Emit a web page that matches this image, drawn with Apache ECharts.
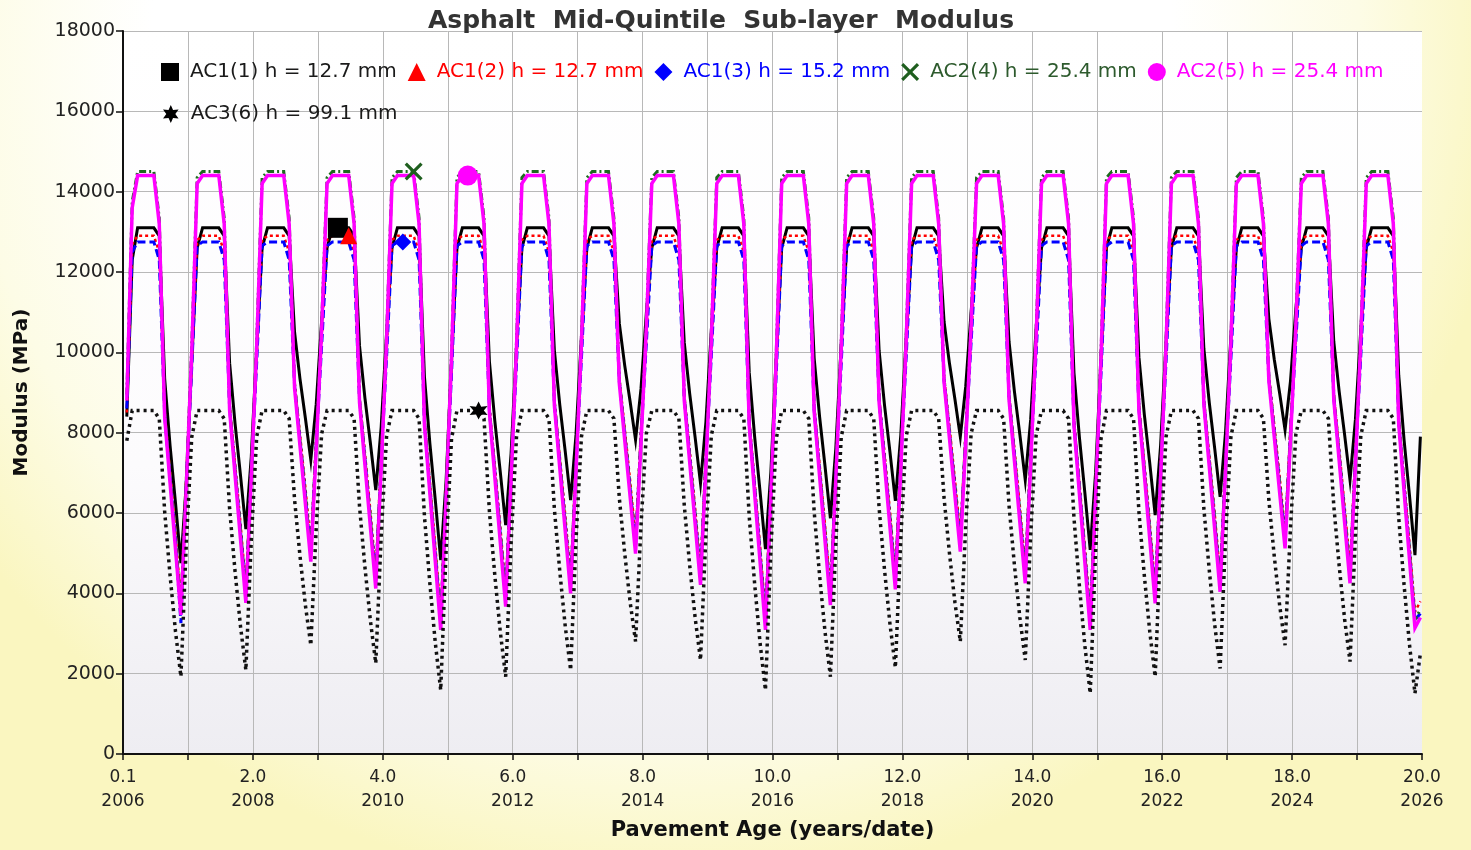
<!DOCTYPE html>
<html>
<head>
<meta charset="utf-8">
<title>Asphalt Mid-Quintile Sub-layer Modulus</title>
<script src="https://cdn.jsdelivr.net/npm/echarts@6/dist/echarts.min.js"></script>
<style>
  html, body { margin: 0; padding: 0; background: #ffffff; }
  #chart { width: 1471px; height: 850px; }
</style>
</head>
<body>
<div id="chart"></div>
<script>
// Monthly sub-layer modulus (MPa), one row of 12 monthly values per year of pavement age.
const seriesNames = [
  'AC1(1) h = 12.7 mm',
  'AC1(2) h = 12.7 mm',
  'AC1(3) h = 15.2 mm',
  'AC2(4) h = 25.4 mm',
  'AC2(5) h = 25.4 mm',
  'AC3(6) h = 99.1 mm'
];

// x-axis tick labels: age (years) over calendar year
const ageLabels = ['0.1', '2.0', '4.0', '6.0', '8.0', '10.0', '12.0', '14.0', '16.0', '18.0', '20.0'];
const yearLabels = ['2006', '2008', '2010', '2012', '2014', '2016', '2018', '2020', '2022', '2024', '2026'];

const ac1_1 = [
  [8400, 12300, 13100, 13100, 13100, 13100, 12900, 9340, 7670, 6250, 4750, 6750],
  [9760, 12600, 13100, 13100, 13100, 13100, 12900, 9730, 8230, 6950, 5600, 7400],
  [10100, 12600, 13100, 13100, 13100, 13100, 12900, 10500, 9340, 8360, 7320, 8710],
  [10790, 12600, 13100, 13100, 13100, 13100, 12900, 10160, 8860, 7750, 6570, 8140],
  [10490, 12600, 13100, 13100, 13100, 13100, 12900, 9380, 7730, 6320, 4830, 6820],
  [9790, 12600, 13100, 13100, 13100, 13100, 12900, 9770, 8290, 7030, 5700, 7480],
  [10140, 12600, 13100, 13100, 13100, 13100, 12900, 10050, 8690, 7540, 6320, 7950],
  [10390, 12600, 13100, 13100, 13100, 13100, 12900, 10720, 9670, 8770, 7820, 9090],
  [10990, 12600, 13100, 13100, 13100, 13100, 12900, 10240, 8970, 7890, 6740, 8270],
  [10560, 12600, 13100, 13100, 13100, 13100, 12900, 9500, 7900, 6540, 5100, 7020],
  [9900, 12600, 13100, 13100, 13100, 13100, 12900, 9850, 8400, 7170, 5870, 7610],
  [10210, 12600, 13100, 13100, 13100, 13100, 12900, 10040, 8680, 7520, 6300, 7930],
  [10380, 12600, 13100, 13100, 13100, 13100, 12900, 10760, 9720, 8840, 7900, 9150],
  [11020, 12600, 13100, 13100, 13100, 13100, 12900, 10270, 9020, 7950, 6820, 8330],
  [10590, 12600, 13100, 13100, 13100, 13100, 12900, 9490, 7890, 6520, 5080, 7010],
  [9890, 12600, 13100, 13100, 13100, 13100, 12900, 9880, 8450, 7240, 5950, 7670],
  [10240, 12600, 13100, 13100, 13100, 13100, 12900, 10090, 8750, 7610, 6400, 8010],
  [10420, 12600, 13100, 13100, 13100, 13100, 12900, 10840, 9830, 8980, 8070, 9280],
  [11090, 12600, 13100, 13100, 13100, 13100, 12900, 10270, 9020, 7950, 6820, 8330],
  [10590, 12600, 13100, 13100, 13100, 13100, 12900, 9430, 7800, 6420, 4950, 7900]
];

const ac1_2 = [
  [8500, 12700, 12900, 12900, 12900, 12900, 12500, 8530, 7040, 5500, 3800, 6980],
  [9720, 12800, 12900, 12900, 12900, 12900, 12500, 8700, 7250, 5760, 4160, 7200],
  [9840, 12800, 12900, 12900, 12900, 12900, 12500, 9260, 7970, 6630, 5190, 7930],
  [10260, 12800, 12900, 12900, 12900, 12900, 12500, 8900, 7500, 6060, 4520, 7450],
  [9990, 12800, 12900, 12900, 12900, 12900, 12500, 8330, 6780, 5190, 3490, 6720],
  [9580, 12800, 12900, 12900, 12900, 12900, 12500, 8650, 7190, 5680, 4070, 7130],
  [9810, 12800, 12900, 12900, 12900, 12900, 12500, 8830, 7420, 5960, 4400, 7370],
  [9940, 12800, 12900, 12900, 12900, 12900, 12500, 9370, 8110, 6800, 5390, 8070],
  [10340, 12800, 12900, 12900, 12900, 12900, 12500, 8950, 7570, 6140, 4610, 7520],
  [10020, 12800, 12900, 12900, 12900, 12900, 12500, 8330, 6780, 5190, 3490, 6720],
  [9580, 12800, 12900, 12900, 12900, 12900, 12500, 8670, 7220, 5710, 4110, 7160],
  [9820, 12800, 12900, 12900, 12900, 12900, 12500, 8890, 7490, 6050, 4500, 7440],
  [9980, 12800, 12900, 12900, 12900, 12900, 12500, 9400, 8150, 6840, 5440, 8100],
  [10360, 12800, 12900, 12900, 12900, 12900, 12500, 8970, 7600, 6170, 4650, 7540],
  [10040, 12800, 12900, 12900, 12900, 12900, 12500, 8330, 6780, 5190, 3490, 6720],
  [9580, 12800, 12900, 12900, 12900, 12900, 12500, 8690, 7250, 5750, 4150, 7190],
  [9840, 12800, 12900, 12900, 12900, 12900, 12500, 8850, 7450, 5990, 4440, 7390],
  [9960, 12800, 12900, 12900, 12900, 12900, 12500, 9450, 8200, 6910, 5520, 8160],
  [10390, 12800, 12900, 12900, 12900, 12900, 12500, 8970, 7600, 6170, 4650, 7540],
  [10040, 12800, 12900, 12900, 12900, 12900, 12500, 8360, 6820, 5230, 3540, 3800]
];

const ac1_3 = [
  [8600, 12500, 12750, 12750, 12750, 12750, 12300, 8430, 6890, 5300, 3260, 6780],
  [9620, 12650, 12750, 12750, 12750, 12750, 12300, 8600, 7100, 5560, 3960, 7000],
  [9740, 12650, 12750, 12750, 12750, 12750, 12300, 9160, 7820, 6430, 4990, 7730],
  [10160, 12650, 12750, 12750, 12750, 12750, 12300, 8800, 7350, 5860, 4320, 7250],
  [9890, 12650, 12750, 12750, 12750, 12750, 12300, 8230, 6630, 4990, 3290, 6520],
  [9480, 12650, 12750, 12750, 12750, 12750, 12300, 8550, 7040, 5480, 3870, 6930],
  [9710, 12650, 12750, 12750, 12750, 12750, 12300, 8730, 7270, 5760, 4200, 7170],
  [9840, 12650, 12750, 12750, 12750, 12750, 12300, 9270, 7960, 6600, 5190, 7870],
  [10240, 12650, 12750, 12750, 12750, 12750, 12300, 8850, 7420, 5940, 4410, 7320],
  [9920, 12650, 12750, 12750, 12750, 12750, 12300, 8230, 6630, 4990, 3290, 6520],
  [9480, 12650, 12750, 12750, 12750, 12750, 12300, 8570, 7070, 5510, 3910, 6960],
  [9720, 12650, 12750, 12750, 12750, 12750, 12300, 8790, 7340, 5850, 4300, 7240],
  [9880, 12650, 12750, 12750, 12750, 12750, 12300, 9300, 8000, 6640, 5240, 7900],
  [10260, 12650, 12750, 12750, 12750, 12750, 12300, 8870, 7450, 5970, 4450, 7340],
  [9940, 12650, 12750, 12750, 12750, 12750, 12300, 8230, 6630, 4990, 3290, 6520],
  [9480, 12650, 12750, 12750, 12750, 12750, 12300, 8590, 7100, 5550, 3950, 6990],
  [9740, 12650, 12750, 12750, 12750, 12750, 12300, 8750, 7300, 5790, 4240, 7190],
  [9860, 12650, 12750, 12750, 12750, 12750, 12300, 9350, 8050, 6710, 5320, 7960],
  [10290, 12650, 12750, 12750, 12750, 12750, 12300, 8870, 7450, 5970, 4450, 7340],
  [9940, 12650, 12750, 12750, 12750, 12750, 12300, 8260, 6670, 5030, 3340, 3500]
];

const ac2_4 = [
  [8950, 13750, 14500, 14500, 14500, 14500, 13350, 8480, 6890, 5300, 3660, 6830],
  [10170, 14350, 14500, 14500, 14500, 14500, 13350, 8650, 7100, 5560, 3960, 7050],
  [10290, 14350, 14500, 14500, 14500, 14500, 13350, 9210, 7820, 6430, 4990, 7780],
  [10710, 14350, 14500, 14500, 14500, 14500, 13350, 8850, 7350, 5860, 4320, 7300],
  [10440, 14350, 14500, 14500, 14500, 14500, 13350, 8280, 6630, 4990, 3290, 6570],
  [10030, 14350, 14500, 14500, 14500, 14500, 13350, 8600, 7040, 5480, 3870, 6980],
  [10260, 14350, 14500, 14500, 14500, 14500, 13350, 8780, 7270, 5760, 4200, 7220],
  [10390, 14350, 14500, 14500, 14500, 14500, 13350, 9320, 7960, 6600, 5190, 7920],
  [10790, 14350, 14500, 14500, 14500, 14500, 13350, 8900, 7420, 5940, 4410, 7370],
  [10470, 14350, 14500, 14500, 14500, 14500, 13350, 8280, 6630, 4990, 3290, 6570],
  [10030, 14350, 14500, 14500, 14500, 14500, 13350, 8620, 7070, 5510, 3910, 7010],
  [10270, 14350, 14500, 14500, 14500, 14500, 13350, 8840, 7340, 5850, 4300, 7290],
  [10430, 14350, 14500, 14500, 14500, 14500, 13350, 9350, 8000, 6640, 5240, 7950],
  [10810, 14350, 14500, 14500, 14500, 14500, 13350, 8920, 7450, 5970, 4450, 7390],
  [10490, 14350, 14500, 14500, 14500, 14500, 13350, 8280, 6630, 4990, 3290, 6570],
  [10030, 14350, 14500, 14500, 14500, 14500, 13350, 8640, 7100, 5550, 3950, 7040],
  [10290, 14350, 14500, 14500, 14500, 14500, 13350, 8800, 7300, 5790, 4240, 7240],
  [10410, 14350, 14500, 14500, 14500, 14500, 13350, 9400, 8050, 6710, 5320, 8010],
  [10840, 14350, 14500, 14500, 14500, 14500, 13350, 8920, 7450, 5970, 4450, 7390],
  [10490, 14350, 14500, 14500, 14500, 14500, 13350, 8310, 6670, 5030, 3340, 3600]
];

const ac2_5 = [
  [8800, 13600, 14400, 14400, 14400, 14400, 13200, 8380, 6740, 5100, 3460, 6630],
  [10020, 14200, 14400, 14400, 14400, 14400, 13200, 8550, 6950, 5360, 3760, 6850],
  [10140, 14200, 14400, 14400, 14400, 14400, 13200, 9110, 7670, 6230, 4790, 7580],
  [10560, 14200, 14400, 14400, 14400, 14400, 13200, 8750, 7200, 5660, 4120, 7100],
  [10290, 14200, 14400, 14400, 14400, 14400, 13200, 8180, 6480, 4790, 3090, 6370],
  [9880, 14200, 14400, 14400, 14400, 14400, 13200, 8500, 6890, 5280, 3670, 6780],
  [10110, 14200, 14400, 14400, 14400, 14400, 13200, 8680, 7120, 5560, 4000, 7020],
  [10240, 14200, 14400, 14400, 14400, 14400, 13200, 9220, 7810, 6400, 4990, 7720],
  [10640, 14200, 14400, 14400, 14400, 14400, 13200, 8800, 7270, 5740, 4210, 7170],
  [10320, 14200, 14400, 14400, 14400, 14400, 13200, 8180, 6480, 4790, 3090, 6370],
  [9880, 14200, 14400, 14400, 14400, 14400, 13200, 8520, 6920, 5310, 3710, 6810],
  [10120, 14200, 14400, 14400, 14400, 14400, 13200, 8740, 7190, 5650, 4100, 7090],
  [10280, 14200, 14400, 14400, 14400, 14400, 13200, 9250, 7850, 6440, 5040, 7750],
  [10660, 14200, 14400, 14400, 14400, 14400, 13200, 8820, 7300, 5770, 4250, 7190],
  [10340, 14200, 14400, 14400, 14400, 14400, 13200, 8180, 6480, 4790, 3090, 6370],
  [9880, 14200, 14400, 14400, 14400, 14400, 13200, 8540, 6950, 5350, 3750, 6840],
  [10140, 14200, 14400, 14400, 14400, 14400, 13200, 8700, 7150, 5590, 4040, 7040],
  [10260, 14200, 14400, 14400, 14400, 14400, 13200, 9300, 7900, 6510, 5120, 7810],
  [10690, 14200, 14400, 14400, 14400, 14400, 13200, 8820, 7300, 5770, 4250, 7190],
  [10340, 14200, 14400, 14400, 14400, 14400, 13200, 8210, 6520, 4830, 3140, 3400]
];

const ac3_6 = [
  [7800, 8550, 8550, 8550, 8550, 8550, 8350, 6030, 4440, 3050, 1925, 5240],
  [7890, 8550, 8550, 8550, 8550, 8550, 8350, 6100, 4550, 3190, 2090, 5320],
  [7900, 8550, 8550, 8550, 8550, 8550, 8350, 6330, 4930, 3700, 2710, 5630],
  [7970, 8550, 8550, 8550, 8550, 8550, 8350, 6160, 4650, 3330, 2260, 5410],
  [7920, 8550, 8550, 8550, 8550, 8550, 8350, 5910, 4240, 2770, 1590, 5070],
  [7850, 8550, 8550, 8550, 8550, 8550, 8350, 6030, 4440, 3050, 1925, 5240],
  [7890, 8550, 8550, 8550, 8550, 8550, 8350, 6100, 4550, 3190, 2090, 5320],
  [7900, 8550, 8550, 8550, 8550, 8550, 8350, 6370, 4990, 3780, 2800, 5680],
  [7980, 8550, 8550, 8550, 8550, 8550, 8350, 6190, 4700, 3400, 2340, 5450],
  [7930, 8550, 8550, 8550, 8550, 8550, 8350, 5910, 4240, 2770, 1590, 5070],
  [7850, 8550, 8550, 8550, 8550, 8550, 8350, 6030, 4440, 3050, 1925, 5240],
  [7890, 8550, 8550, 8550, 8550, 8550, 8350, 6120, 4580, 3240, 2150, 5350],
  [7910, 8550, 8550, 8550, 8550, 8550, 8350, 6370, 4990, 3780, 2800, 5680],
  [7980, 8550, 8550, 8550, 8550, 8550, 8350, 6190, 4700, 3400, 2340, 5450],
  [7930, 8550, 8550, 8550, 8550, 8550, 8350, 5880, 4190, 2710, 1510, 5030],
  [7850, 8550, 8550, 8550, 8550, 8550, 8350, 6030, 4440, 3050, 1925, 5240],
  [7890, 8550, 8550, 8550, 8550, 8550, 8350, 6110, 4570, 3220, 2130, 5340],
  [7910, 8550, 8550, 8550, 8550, 8550, 8350, 6330, 4930, 3700, 2710, 5630],
  [7970, 8550, 8550, 8550, 8550, 8550, 8350, 6180, 4680, 3360, 2300, 5430],
  [7930, 8550, 8550, 8550, 8550, 8550, 8350, 5880, 4190, 2710, 1510, 2500]
];

// Monthly sampling: first sample ~0.06 years after opening, one every month.
const firstAge = 0.7 / 12;
const ages = ac1_1.flat().map((_, i) => firstAge + i / 12);

const FONT = "'DejaVu Sans', Verdana, sans-serif";

const starPath = 'path://M10,0 L12.5,5.67 L18.66,5 L15,10 L18.66,15 L12.5,14.33 L10,20 L7.5,14.33 L1.34,15 L5,10 L1.34,5 L7.5,5.67 Z';
const crossPath = 'path://M2,0 L8,6 L14,0 L16,2 L10,8 L16,14 L14,16 L8,10 L2,16 L0,14 L6,8 L0,2 Z';

// One marker per curve, drawn on the data sample with the given index.
function makeSeries(name, rows, color, lineType, width, mark) {
  const values = rows.flat();
  const data = values.map((v, i) => {
    if (i === mark.index) {
      return {
        value: [ages[i], v],
        symbol: mark.symbol,
        symbolSize: mark.size,
        itemStyle: { color: mark.color, borderWidth: 0 }
      };
    }
    return [ages[i], v];
  });
  return {
    name: name,
    type: 'line',
    data: data,
    symbol: 'none',
    showSymbol: true,
    showAllSymbol: true,
    animation: false,
    lineStyle: { color: color, width: width, type: lineType, cap: 'butt', join: 'miter' },
    itemStyle: { color: color, borderWidth: 0 },
    emphasis: { disabled: true }
  };
}

const series = [
  makeSeries(seriesNames[0], ac1_1, '#000000', 'solid', 3, { index: 39, symbol: 'rect', size: 20, color: '#000000' }),
  makeSeries(seriesNames[1], ac1_2, '#ff0000', [3, 3], 2.5, { index: 41, symbol: 'triangle', size: 17, color: '#ff0000' }),
  makeSeries(seriesNames[2], ac1_3, '#0000ff', [8, 4], 3, { index: 51, symbol: 'diamond', size: 17, color: '#0000ff' }),
  makeSeries(seriesNames[3], ac2_4, '#1e6a1e', [7, 3, 2, 3], 3, { index: 53, symbol: crossPath, size: 18, color: '#1e5e1e' }),
  makeSeries(seriesNames[4], ac2_5, '#ff00ff', 'solid', 3.5, { index: 63, symbol: 'circle', size: 20, color: '#ff00ff' }),
  makeSeries(seriesNames[5], ac3_6, '#111111', [3, 4], 3.5, { index: 65, symbol: starPath, size: 18, color: '#000000' })
];

const legendText = { fontFamily: FONT, fontSize: 20, padding: [0, 0, 0, 6] };

const option = {
  backgroundColor: {
    type: 'radial', x: 0.45, y: 0.05, r: 1.0,
    colorStops: [
      { offset: 0, color: '#ffffff' },
      { offset: 0.6, color: '#ffffff' },
      { offset: 0.82, color: '#fdfce6' },
      { offset: 1, color: '#faf6c0' }
    ]
  },
  animation: false,
  title: {
    text: 'Asphalt  Mid-Quintile  Sub-layer  Modulus',
    left: 716,
    textAlign: 'center',
    top: 4,
    textStyle: { fontFamily: FONT, fontSize: 25, fontWeight: 'bold', color: '#333333' }
  },
  legend: [
    {
      left: 156, top: 57,
      itemWidth: 18, itemHeight: 18, itemGap: 11,
      selectedMode: false,
      textStyle: legendText,
      itemStyle: { borderWidth: 0 },
      data: [
        { name: seriesNames[0], icon: 'rect', itemStyle: { color: '#000000' }, textStyle: { color: '#1a1a1a' } },
        { name: seriesNames[1], icon: 'triangle', itemStyle: { color: '#ff0000' }, textStyle: { color: '#ff0000' } },
        { name: seriesNames[2], icon: 'diamond', itemStyle: { color: '#0000ff' }, textStyle: { color: '#0000ff' } },
        { name: seriesNames[3], icon: crossPath, itemStyle: { color: '#1e5e1e' }, textStyle: { color: '#2d5a2d' } },
        { name: seriesNames[4], icon: 'circle', itemStyle: { color: '#ff00ff' }, textStyle: { color: '#ff00ff' } }
      ]
    },
    {
      left: 158, top: 99,
      itemWidth: 18, itemHeight: 18,
      selectedMode: false,
      textStyle: legendText,
      itemStyle: { borderWidth: 0 },
      data: [
        { name: seriesNames[5], icon: starPath, itemStyle: { color: '#000000' }, textStyle: { color: '#1a1a1a' } }
      ]
    }
  ],
  grid: {
    left: 123, right: 49, top: 31, bottom: 96,
    containLabel: false,
    outerBoundsMode: 'none',
    show: true,
    borderWidth: 0,
    backgroundColor: {
      type: 'linear', x: 0, y: 0, x2: 0, y2: 1,
      colorStops: [
        { offset: 0, color: '#ffffff' },
        { offset: 0.6, color: '#fcfbfd' },
        { offset: 0.88, color: '#f2f1f5' },
        { offset: 1, color: '#eeedf2' }
      ]
    }
  },
  xAxis: {
    type: 'value',
    min: 0, max: 20, interval: 1,
    name: 'Pavement Age (years/date)',
    nameLocation: 'middle',
    nameGap: 66,
    nameTextStyle: { fontFamily: FONT, fontSize: 21, fontWeight: 'bold', color: '#111111' },
    axisLine: { show: true, onZero: false, lineStyle: { color: '#111111', width: 2 } },
    axisTick: { show: true, inside: false, length: 6, lineStyle: { color: '#111111', width: 1.5 } },
    axisLabel: {
      fontFamily: FONT, fontSize: 17, color: '#222222', lineHeight: 24, margin: 12,
      formatter: function (v) {
        if (v % 2 !== 0) return '';
        const k = v / 2;
        return ageLabels[k] + '\n' + yearLabels[k];
      }
    },
    splitLine: { show: true, showMaxLine: false, lineStyle: { color: '#b8b8b8', width: 1 } }
  },
  yAxis: {
    type: 'value',
    min: 0, max: 18000, interval: 2000,
    name: 'Modulus (MPa)',
    nameLocation: 'middle',
    nameGap: 91,
    nameRotate: 90,
    nameTextStyle: { fontFamily: FONT, fontSize: 20, fontWeight: 'bold', color: '#111111' },
    axisLine: { show: true, lineStyle: { color: '#111111', width: 2 } },
    axisTick: { show: true, inside: false, length: 7, lineStyle: { color: '#111111', width: 1.5 } },
    axisLabel: {
      fontFamily: FONT, fontSize: 19, color: '#222222', margin: 8,
      formatter: function (v) { return String(v); }
    },
    splitLine: { show: true, lineStyle: { color: '#b8b8b8', width: 1 } }
  },
  series: series
};

const chart = echarts.init(document.getElementById('chart'), null, { renderer: 'canvas' });
chart.setOption(option);
</script>
</body>
</html>
